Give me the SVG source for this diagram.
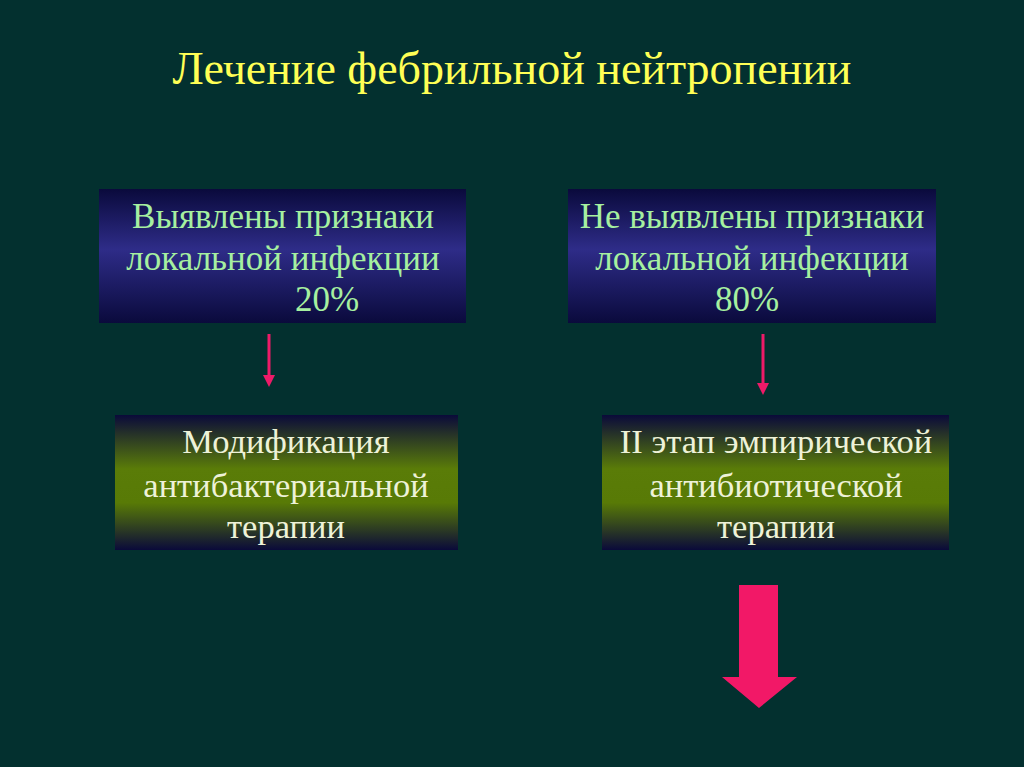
<svg xmlns="http://www.w3.org/2000/svg" width="1024" height="767" viewBox="0 0 1024 767">
<defs>
<linearGradient id="blueG" x1="0" y1="0" x2="0" y2="1">
<stop offset="0" stop-color="#0a0a3c"/>
<stop offset="0.45" stop-color="#2e2c88"/>
<stop offset="1" stop-color="#0a0a3c"/>
</linearGradient>
<linearGradient id="greenG" x1="0" y1="0" x2="0" y2="1">
<stop offset="0" stop-color="#0a0a3a"/>
<stop offset="0.4" stop-color="#5a7c08"/>
<stop offset="0.65" stop-color="#587a06"/>
<stop offset="1" stop-color="#0a0a3a"/>
</linearGradient>
<marker id="ah" markerWidth="4" markerHeight="4" refX="2" refY="2" orient="auto" markerUnits="strokeWidth">
<path d="M0,0 L4,2 L0,4 Z" fill="#ee1a68"/>
</marker>
<style>
.t{font-family:"Liberation Serif","Times New Roman",serif;text-anchor:middle}
.bt{fill:#a6f0a0;font-size:35px}
.gt{fill:#eef2d8;font-size:34.5px}
.title{font-family:"Liberation Serif","Times New Roman",serif;font-size:46px;fill:#ffff55;text-anchor:middle}
.conn{stroke:#ee1a68;stroke-width:3;fill:none}
</style>
</defs>
<rect x="0" y="0" width="1024" height="767" fill="#03302f"/>
<text class="title" x="512" y="84">Лечение фебрильной нейтропении</text>
<g id="box1">
<rect x="99" y="189" width="367" height="134" fill="url(#blueG)"/>
<text class="t bt" x="283" y="228">Выявлены признаки</text>
<text class="t bt" x="283" y="270">локальной инфекции</text>
<text class="t bt" x="327" y="311">20%</text>
</g>
<g id="box2">
<rect x="568" y="189" width="368" height="134" fill="url(#blueG)"/>
<text class="t bt" x="752" y="228">Не выявлены признаки</text>
<text class="t bt" x="752" y="270">локальной инфекции</text>
<text class="t bt" x="747" y="311">80%</text>
</g>
<g id="box3">
<rect x="115" y="415" width="343" height="135" fill="url(#greenG)"/>
<text class="t gt" x="286" y="453">Модификация</text>
<text class="t gt" x="286" y="497">антибактериальной</text>
<text class="t gt" x="286" y="538">терапии</text>
</g>
<g id="box4">
<rect x="602" y="415" width="347" height="135" fill="url(#greenG)"/>
<text class="t gt" x="776" y="453">II этап эмпирической</text>
<text class="t gt" x="776" y="497">антибиотической</text>
<text class="t gt" x="776" y="538">терапии</text>
</g>
<g id="connectors">
<line class="conn" x1="269" y1="334" x2="269" y2="381" marker-end="url(#ah)"/>
<line class="conn" x1="763" y1="334" x2="763" y2="389" marker-end="url(#ah)"/>
<polygon points="739,585 778,585 778,677 797,677 759,708 722,677 739,677" fill="#f21867"/>
</g>
</svg>
